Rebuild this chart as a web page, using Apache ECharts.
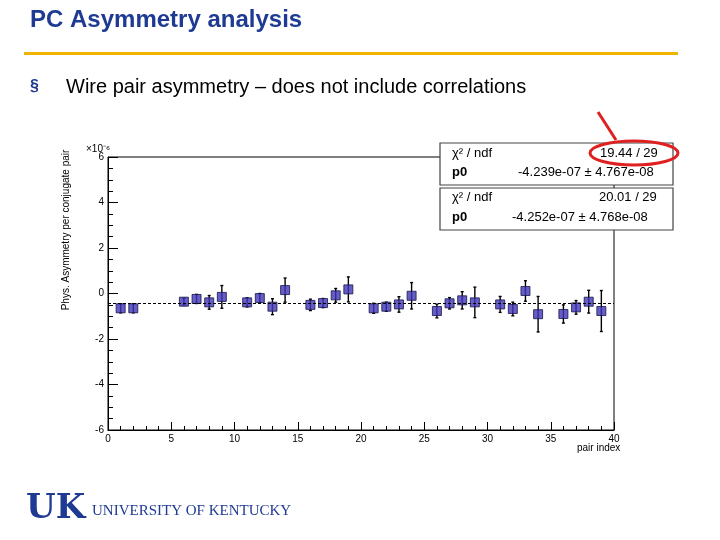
<!DOCTYPE html>
<html>
<head>
<meta charset="utf-8">
<script src="https://cdn.jsdelivr.net/npm/echarts@6/dist/echarts.min.js"></script>
<style>html,body{margin:0;padding:0;background:#fff}#main{width:720px;height:540px}</style>
</head>
<body>
<div id="main"></div>
<script>
// values in units of 1e-6
const pairIndex = [1, 2, 6, 7, 8, 9, 11, 12, 13, 14, 16, 17, 18, 19, 21, 22, 23, 24, 26, 27, 28, 29, 31, 32, 33, 34, 36, 37, 38, 39];
const asym = [-0.65, -0.65, -0.36, -0.24, -0.39, -0.15, -0.39, -0.2, -0.58, 0.15, -0.5, -0.42, -0.08, 0.18, -0.65, -0.58, -0.48, -0.1, -0.77, -0.43, -0.3, -0.39, -0.48, -0.68, 0.11, -0.91, -0.9, -0.61, -0.36, -0.77];
const asymErr = [0.2, 0.2, 0.15, 0.2, 0.3, 0.5, 0.2, 0.2, 0.35, 0.53, 0.25, 0.2, 0.3, 0.55, 0.22, 0.2, 0.34, 0.58, 0.3, 0.25, 0.38, 0.67, 0.35, 0.3, 0.45, 0.78, 0.4, 0.3, 0.5, 0.9];
const fitP0 = -0.424;
const yTicks = [-6, -4, -2, 0, 2, 4, 6];

const chart = echarts.init(document.getElementById('main'));
const pts = pairIndex.map((x, i) => [x, asym[i], asymErr[i]]);
const sf = 'Liberation Sans, Arial, sans-serif';

chart.setOption({
  animation: false,
  grid: { left: 108, right: 106, top: 157, bottom: 110, show: true, borderColor: '#000', borderWidth: 1 },
  xAxis: {
    type: 'value', min: 0, max: 40, interval: 5,
    axisLine: { onZero: false, lineStyle: { color: '#000' } },
    axisTick: { inside: true, length: 8, lineStyle: { color: '#000' } },
    minorTick: { show: true, splitNumber: 5, length: 4, lineStyle: { color: '#000' } },
    splitLine: { show: false },
    axisLabel: { fontSize: 10, color: '#000', fontFamily: sf, margin: 4 }
  },
  yAxis: {
    type: 'value', min: -6, max: 6, interval: 2,
    axisLine: { lineStyle: { color: '#000' } },
    axisTick: { inside: true, length: 10, lineStyle: { color: '#000' } },
    minorTick: { show: true, splitNumber: 4, length: 5, lineStyle: { color: '#000' } },
    splitLine: { show: false },
    axisLabel: { fontSize: 10, color: '#000', fontFamily: sf, margin: 4,
      formatter: v => yTicks.includes(v) ? String(v) : '' }
  },
  series: [
    {
      type: 'custom',
      data: pts,
      z: 2,
      renderItem: (params, api) => {
        const x = api.value(0), y = api.value(1), e = api.value(2);
        const hi = api.coord([x, y + e]), lo = api.coord([x, y - e]);
        return { type: 'group', children: [
          { type: 'line', shape: { x1: hi[0], y1: hi[1], x2: lo[0], y2: lo[1] }, style: { stroke: '#000', lineWidth: 1.4 } },
          { type: 'line', shape: { x1: hi[0] - 1.5, y1: hi[1], x2: hi[0] + 1.5, y2: hi[1] }, style: { stroke: '#000', lineWidth: 1.4 } },
          { type: 'line', shape: { x1: lo[0] - 1.5, y1: lo[1], x2: lo[0] + 1.5, y2: lo[1] }, style: { stroke: '#000', lineWidth: 1.4 } }
        ] };
      }
    },
    {
      type: 'scatter',
      data: pts,
      symbol: 'rect', symbolSize: 9, z: 3,
      itemStyle: { color: '#4036b8', borderColor: '#15154a', borderWidth: 1 },
      markLine: {
        silent: true, symbol: 'none', label: { show: false },
        lineStyle: { color: '#000', type: [3, 2], width: 1 },
        data: [{ yAxis: fitP0 }]
      }
    }
  ],
  graphic: [
    { type: 'text', left: 30, top: 8, style: { text: 'PC Asymmetry analysis', font: 'bold 24px ' + sf, fill: '#1f3a93' } },
    { type: 'rect', shape: { x: 24, y: 52, width: 654, height: 3 }, style: { fill: '#f0b400' } },
    { type: 'text', left: 30, top: 79, style: { text: '§', font: 'bold 16px ' + sf, fill: '#1f3a93' } },
    { type: 'text', left: 66, top: 77, style: { text: 'Wire pair asymmetry – does not include correlations', font: '20px ' + sf, fill: '#000' } },
    { type: 'text', x: 66, y: 230, rotation: Math.PI / 2, style: { text: 'Phys. Asymmetry per conjugate pair', font: '10px ' + sf, fill: '#000', align: 'center', verticalAlign: 'middle' } },
    { type: 'text', left: 86, top: 144, style: { text: '×10⁻⁶', font: '10px ' + sf, fill: '#000' } },
    { type: 'text', left: 577, top: 443, style: { text: 'pair index', font: '10px ' + sf, fill: '#000' } },
    // stats boxes
    { type: 'rect', z: 10, shape: { x: 440, y: 143, width: 233, height: 42 }, style: { fill: '#fff', stroke: '#444', lineWidth: 1.2 } },
    { type: 'text', z: 11, left: 452, top: 147, style: { text: 'χ² / ndf', font: '13px ' + sf, fill: '#000' } },
    { type: 'text', z: 11, left: 600, top: 147, style: { text: '19.44 / 29', font: '13px ' + sf, fill: '#000' } },
    { type: 'text', z: 11, left: 452, top: 166, style: { text: 'p0', font: 'bold 13px ' + sf, fill: '#000' } },
    { type: 'text', z: 11, left: 518, top: 166, style: { text: '-4.239e-07 ± 4.767e-08', font: '13px ' + sf, fill: '#000' } },
    { type: 'rect', z: 10, shape: { x: 440, y: 188, width: 233, height: 42 }, style: { fill: '#fff', stroke: '#444', lineWidth: 1.2 } },
    { type: 'text', z: 11, left: 452, top: 191, style: { text: 'χ² / ndf', font: '13px ' + sf, fill: '#000' } },
    { type: 'text', z: 11, left: 599, top: 191, style: { text: '20.01 / 29', font: '13px ' + sf, fill: '#000' } },
    { type: 'text', z: 11, left: 452, top: 211, style: { text: 'p0', font: 'bold 13px ' + sf, fill: '#000' } },
    { type: 'text', z: 11, left: 512, top: 211, style: { text: '-4.252e-07 ± 4.768e-08', font: '13px ' + sf, fill: '#000' } },
    { type: 'ellipse', z: 12, shape: { cx: 634, cy: 153, rx: 44, ry: 12 }, style: { fill: 'none', stroke: '#e02020', lineWidth: 3 } },
    { type: 'line', z: 12, shape: { x1: 598, y1: 112, x2: 616, y2: 140 }, style: { stroke: '#e02020', lineWidth: 3 } },
    // logo
    { type: 'text', left: 26, top: 492, style: { text: 'UK', font: 'bold 34px "DejaVu Serif", serif', fill: '#1f3a93' } },
    { type: 'text', left: 92, top: 504, style: { text: 'UNIVERSITY OF KENTUCKY', font: '15px "Liberation Serif", serif', fill: '#1f3a93' } }
  ]
});
</script>
</body>
</html>
